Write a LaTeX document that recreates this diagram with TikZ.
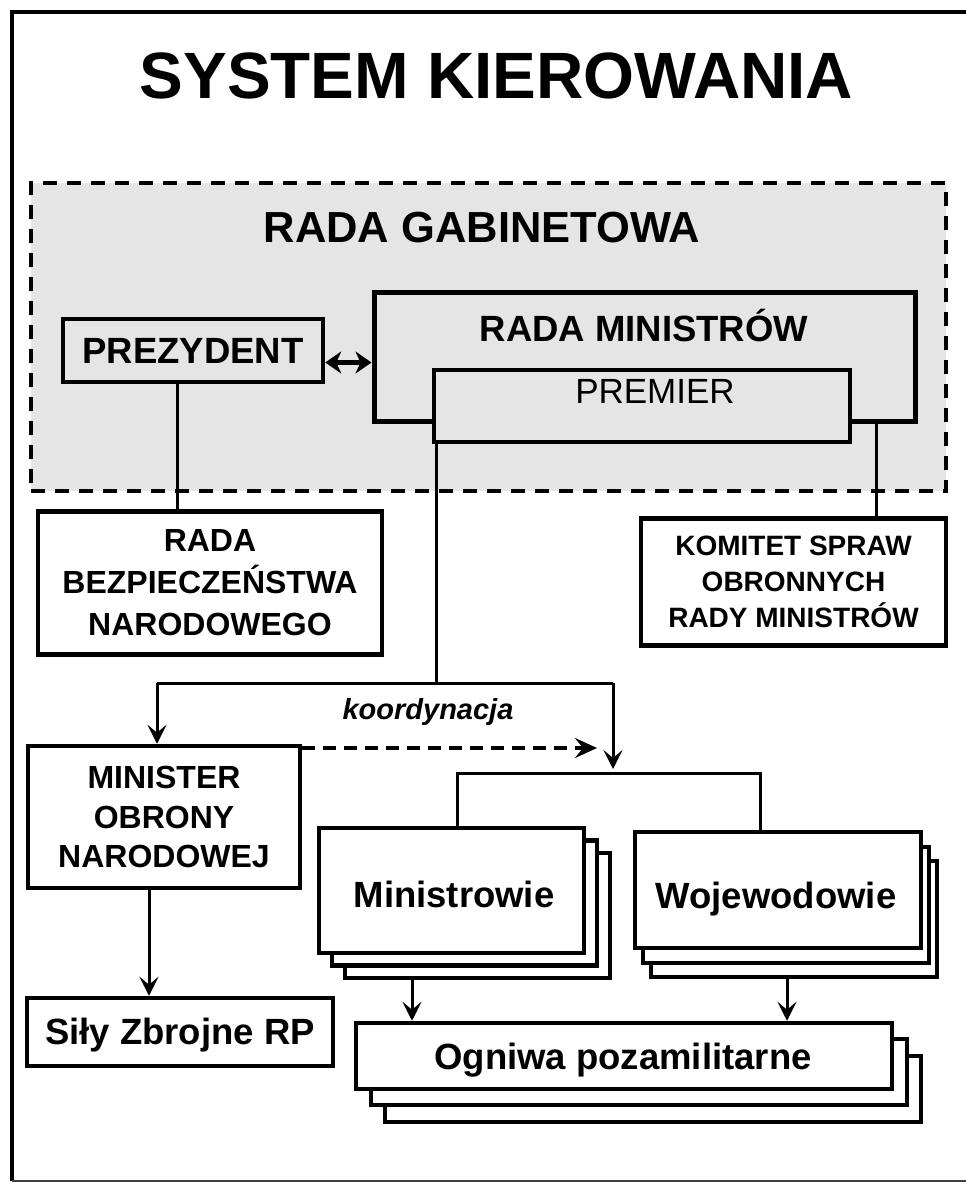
\documentclass[tikz,border=0pt]{standalone}
\usepackage{fontspec}
\setmainfont{Liberation Sans}
\usetikzlibrary{arrows.meta}
\begin{document}
\begin{tikzpicture}[x=1pt,y=-1pt,
  box/.style={draw, line width=4.5pt, fill=white, inner sep=0pt, align=center},
  gbox/.style={box, fill=black!10},
  conn/.style={line width=3pt},
  arr/.style={conn, -{Stealth[length=19pt,width=19pt,inset=8pt]}},
  darr/.style={line width=4.5pt, dash pattern=on 13pt off 8pt, -{Stealth[length=22pt,width=20pt,inset=8pt]}},
  dbl/.style={line width=5pt, {Stealth[length=16pt,width=22pt,inset=5pt]}-{Stealth[length=16pt,width=22pt,inset=5pt]}},
  lbl/.style={anchor=base, inner sep=0pt},
  fbig/.style={font=\fontsize{36.5}{44}\selectfont\bfseries},
]
\useasboundingbox (0,0) rectangle (966,1183);
\fill[white] (0,0) rectangle (966,1183);
% outer frame
\draw[line width=4.5pt] (970,12) -- (12,12) -- (12,1181);
\draw[line width=2.5pt, black!75] (12,1181) -- (970,1181);

\node[lbl, font=\fontsize{65.5}{70}\selectfont\bfseries] (title) at (496.5,98) {SYSTEM KIEROWANIA};

% Rada gabinetowa region
\node[draw, line width=4.5pt, dash pattern=on 14pt off 10pt, fill=black!10, inner sep=0pt,
      minimum width=915pt, minimum height=308pt] (rg) at (488.5,337) {};
\node[lbl, font=\fontsize{43.5}{50}\selectfont\bfseries] (rgl) at (482,242) {RADA GABINETOWA};

\node[gbox, fbig, minimum width=260pt, minimum height=63pt] (prez) at (193,350.5) {PREZYDENT};
\node[gbox, line width=5pt, minimum width=541pt, minimum height=129pt] (rm) at (644.5,356.5) {};
\node[lbl, fbig] (rml) at (644,341) {RADA MINISTRÓW};
\node[gbox, minimum width=416pt, minimum height=72pt] (premier) at (642,406) {};
\node[lbl, font=\fontsize{35}{42}\selectfont] (premierl) at (655,403) {PREMIER};

\draw[dbl] ([yshift=-12pt]prez.east) -- ([yshift=-12pt]prez.east -| rm.west);

% lower boxes
\node[box, font=\fontsize{32}{42}\selectfont\bfseries, minimum width=344pt, minimum height=143pt] (rbn) at (210,583)
  {RADA\\BEZPIECZEŃSTWA\\NARODOWEGO};
\node[box, font=\fontsize{28}{36}\selectfont\bfseries, minimum width=305pt, minimum height=127pt] (kom) at (793.5,582)
  {KOMITET SPRAW\\OBRONNYCH\\RADY MINISTRÓW};

\coordinate (pl) at (177,0);
\coordinate (kx) at (876,0);
\draw[conn] (prez.south -| pl) -- (rbn.north -| pl);
\draw[conn] (rm.south -| kx) -- (kom.north -| kx);

\node[box, font=\fontsize{32}{39.5}\selectfont\bfseries, minimum width=272pt, minimum height=142pt] (mon) at (164,817)
  {MINISTER\\OBRONY\\NARODOWEJ};
\node[box, minimum width=306pt, minimum height=68pt] (sily) at (180,1032) {};
\node[lbl, fbig] (silyl) at (180,1044) {Siły Zbrojne RP};

% stacks
\node[box, minimum width=265pt, minimum height=125pt] (min3) at (477.5,915.5) {};
\node[box, minimum width=265pt, minimum height=125pt] (min2) at (464.5,903) {};
\node[box, minimum width=265pt, minimum height=125pt] (min1) at (451.5,890.5) {};
\node[lbl, fbig] (min1l) at (454,907) {Ministrowie};

\node[box, minimum width=286pt, minimum height=116pt] (woj3) at (794,919) {};
\node[box, minimum width=286pt, minimum height=116pt] (woj2) at (786,905) {};
\node[box, minimum width=286pt, minimum height=116pt] (woj1) at (778,890) {};
\node[lbl, fbig] (woj1l) at (776,908) {Wojewodowie};

\node[box, minimum width=536pt, minimum height=66pt] (ogn3) at (653,1089) {};
\node[box, minimum width=536pt, minimum height=66pt] (ogn2) at (639,1072) {};
\node[box, minimum width=536pt, minimum height=66pt] (ogn1) at (624,1056) {};
\node[lbl, fbig] (ogn1l) at (623,1069) {Ogniwa pozamilitarne};

% connectors
\coordinate (j0) at (436,683);
\coordinate (jl) at (157,683);
\coordinate (jr) at (613,683);
\coordinate (bl) at (457,773);
\coordinate (brr) at (760,773);
\coordinate (dend) at (597,748);
\coordinate (sx) at (149,0);
\coordinate (ax1) at (412,0);
\coordinate (ax2) at (787,0);

\draw[conn] (premier.south -| j0) -- (j0);
\draw[conn] (jl) -- (jr);
\draw[arr] (jl) -- (mon.north -| jl);
\draw[arr] (jr) -- ([yshift=4pt]bl -| jr);
\draw[conn] (min1.north -| bl) -- (bl) -- (brr) -- (woj1.north -| brr);
\draw[darr] (mon.north east |- dend) -- (dend);
\node[lbl, font=\fontsize{29}{34}\selectfont\bfseries\itshape] (koord) at (428,719) {koordynacja};

\draw[arr] (mon.south -| sx) -- (sily.north -| sx);
\draw[arr] (min3.south -| ax1) -- (ogn1.north -| ax1);
\draw[arr] (woj3.south -| ax2) -- (ogn1.north -| ax2);
\end{tikzpicture}
\end{document}
